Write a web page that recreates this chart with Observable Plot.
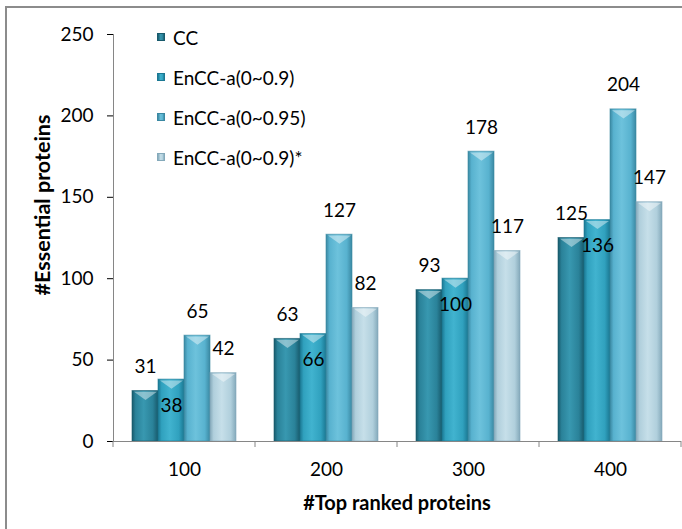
<!DOCTYPE html>
<html>
<head>
<meta charset="utf-8">
<script src="https://cdn.jsdelivr.net/npm/d3@7"></script>
<script src="https://cdn.jsdelivr.net/npm/@observablehq/plot@0.6"></script>
<style>
  body { margin: 0; background: #fff; }
  #chart { position: relative; width: 682px; height: 529px; overflow: hidden; font-family: Lato, "Open Sans", sans-serif; }
  #border { position: absolute; left: 5px; top: 6px; width: 720px; height: 600px; border: 2px solid #8c8c8c; box-sizing: border-box; }
  #chart svg.plot line { stroke: #868686; }
  #legend { position: absolute; left: 157px; top: 0; font-size: 19px; color: #000; }
  .item { position: absolute; left: 0; white-space: nowrap; display: flex; align-items: center; height: 22px; }
  .swatch { width: 8px; height: 8px; margin-right: 8px; box-sizing: border-box; }
</style>
</head>
<body>
<div id="chart"><div id="border"></div></div>
<svg width="0" height="0" style="position:absolute">
  <defs id="defs"></defs>
</svg>
<script>
// Categories, series and values
const groups = ["100", "200", "300", "400"];
const series = ["CC", "EnCC-a(0~0.9)", "EnCC-a(0~0.95)", "EnCC-a(0~0.9)*"];
const ccValues = [31, 63, 93, 125];
const encc09Values = [38, 66, 100, 136];
const encc095Values = [65, 127, 178, 204];
const encc09StarValues = [42, 82, 117, 147];
const yTicks = [0, 50, 100, 150, 200, 250];

// Bar shading per series: [edge, body, highlight]
const shades = [
  ["#185a6c", "#2a8299", "#3898b0"],
  ["#1b7893", "#30a1be", "#41b3cf"],
  ["#3a88a2", "#58b2cf", "#6dc2dc"],
  ["#84a9ba", "#b0cfdc", "#c6dfe9"]
];

const seriesValues = [ccValues, encc09Values, encc095Values, encc09StarValues];
const rows = groups.flatMap((g, i) =>
  series.map((s, j) => ({group: g, series: s, value: seriesValues[j][i]}))
);

// Horizontal gradients give the bars their rounded look
const defs = d3.select("#defs");
shades.forEach(([edge, body, light], i) => {
  const g = defs.append("linearGradient").attr("id", `bar${i}`).attr("x1", 0).attr("x2", 1).attr("y1", 0).attr("y2", 0);
  [[0, edge], [0.14, body], [0.45, light], [0.8, body], [1, edge]].forEach(([o, c]) =>
    g.append("stop").attr("offset", o).attr("stop-color", c));
});
const fills = shades.map((_, i) => `url(#bar${i})`);
const strokes = shades.map(s => s[0]);

// Light bevel at the top of each bar
const bevel = {
  draw(ctx) {
    ctx.moveTo(-11.5, 0.8);
    ctx.lineTo(11.5, 0.8);
    ctx.lineTo(0, 9);
    ctx.closePath();
  }
};

const inside = d => d.series === series[1];

const plot = Plot.plot({
  width: 682,
  height: 529,
  marginLeft: 113,
  marginRight: 1,
  marginTop: 34,
  marginBottom: 88,
  style: {fontFamily: "Lato, 'Open Sans', sans-serif", fontSize: "19px", background: "transparent", overflow: "visible", color: "#000"},
  fx: {domain: groups, padding: 0, axis: "bottom", label: null, tickSize: 0, tickPadding: 21},
  x: {domain: series, paddingInner: 0, paddingOuter: 0.73, axis: null},
  y: {domain: [0, 250], ticks: yTicks, tickSize: 6, tickPadding: 14, line: true, label: null},
  color: {domain: series, range: fills},
  marks: [
    Plot.barY(rows, {fx: "group", x: "series", y: "value", fill: "series",
      stroke: d => strokes[series.indexOf(d.series)], strokeOpacity: 0.6, strokeWidth: 1}),
    Plot.dot(rows, {fx: "group", x: "series", y: "value", symbol: bevel, fill: "#ffffff", fillOpacity: 0.42, stroke: "none"}),
    Plot.text(rows, {filter: d => !inside(d), fx: "group", x: "series", y: "value", text: d => String(d.value), dy: -24, fill: "#000"}),
    Plot.text(rows, {filter: inside, fx: "group", x: "series", y: "value", text: d => String(d.value), dy: 26, fill: "#000"}),
    Plot.ruleY([0])
  ]
});
plot.classList.add("plot");
document.getElementById("chart").appendChild(plot);

// Category tick marks sit on the boundaries between groups
const svg = d3.select(plot);
const fx = plot.scale("fx");
const y = plot.scale("y");
const step = fx.step ?? (fx.range[1] - fx.range[0]) / groups.length;
const y0 = y.apply(0);
const edges = groups.map(g => fx.apply(g)).concat([fx.apply(groups[groups.length - 1]) + step]);
svg.append("g").selectAll("line").data(edges).join("line")
  .attr("x1", d => d).attr("x2", d => d)
  .attr("y1", y0).attr("y2", y0 + 6)
  .attr("stroke", "#868686");

// Axis titles
svg.append("text")
  .attr("transform", `translate(42,205) rotate(-90)`)
  .attr("text-anchor", "middle").attr("dy", "0.35em")
  .attr("font-weight", "bold").attr("font-size", 21.5)
  .attr("fill", "#000")
  .text("#Essential proteins");
svg.append("text")
  .attr("x", (fx.range[0] + fx.range[1]) / 2).attr("y", 503)
  .attr("text-anchor", "middle").attr("dy", "0.35em")
  .attr("font-weight", "bold").attr("font-size", 20)
  .attr("fill", "#000")
  .text("#Top ranked proteins");

// Legend inside the plot area
const legend = d3.select("#chart").append("div").attr("id", "legend");
series.forEach((s, i) => {
  const [edge, body, light] = shades[i];
  const item = legend.append("div").attr("class", "item").style("top", `${37 + i * 40 - 11}px`);
  item.append("div").attr("class", "swatch")
    .style("background", `linear-gradient(to right, ${edge}, ${light} 45%, ${body} 80%, ${edge})`)
    .style("border", `1px solid ${edge}`);
  item.append("span").text(s);
});
</script>
</body>
</html>
